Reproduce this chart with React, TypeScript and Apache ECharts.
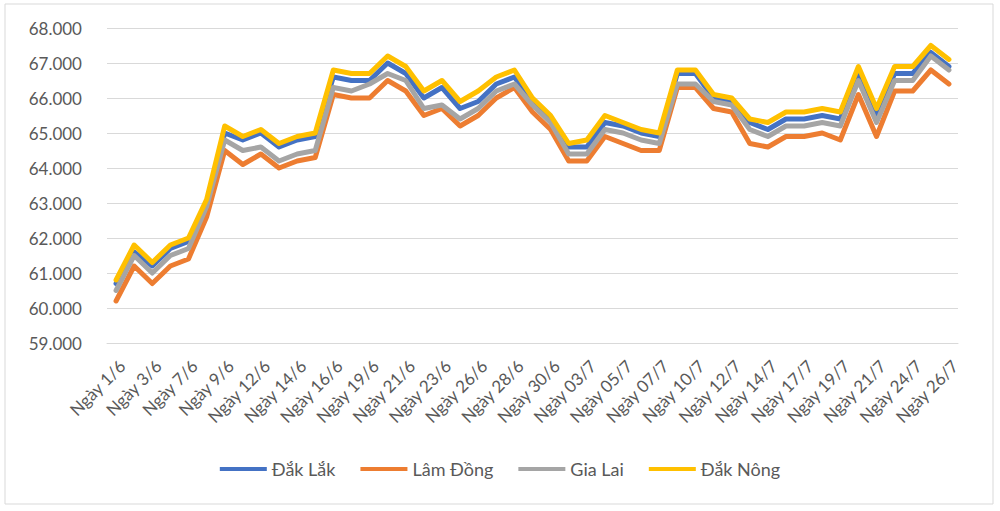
import React, { useEffect, useRef } from "react";
import * as echarts from "echarts";

const categories = [
  "Ngày 1/6", "Ngày 2/6", "Ngày 3/6", "Ngày 4/6", "Ngày 7/6", "Ngày 8/6", "Ngày 9/6", "Ngày 10/6",
  "Ngày 12/6", "Ngày 13/6", "Ngày 14/6", "Ngày 15/6", "Ngày 16/6", "Ngày 17/6", "Ngày 19/6", "Ngày 20/6",
  "Ngày 21/6", "Ngày 22/6", "Ngày 23/6", "Ngày 24/6", "Ngày 26/6", "Ngày 27/6", "Ngày 28/6", "Ngày 29/6",
  "Ngày 30/6", "Ngày 01/7", "Ngày 03/7", "Ngày 04/7", "Ngày 05/7", "Ngày 06/7", "Ngày 07/7", "Ngày 08/7",
  "Ngày 10/7", "Ngày 11/7", "Ngày 12/7", "Ngày 13/7", "Ngày 14/7", "Ngày 15/7", "Ngày 17/7", "Ngày 18/7",
  "Ngày 19/7", "Ngày 20/7", "Ngày 21/7", "Ngày 22/7", "Ngày 24/7", "Ngày 25/7", "Ngày 26/7",
];

const dakLak = [
  60700, 61600, 61200, 61700, 61900, 63000, 65000, 64800, 65000, 64600, 64800, 64900,
  66600, 66500, 66500, 67000, 66700, 66000, 66300, 65700, 65900, 66400, 66600, 65900,
  65400, 64600, 64600, 65300, 65200, 65000, 64900, 66700, 66700, 66000, 65900, 65300,
  65100, 65400, 65400, 65500, 65400, 66700, 65500, 66700, 66700, 67300, 66900,
];

const lamDong = [
  60200, 61200, 60700, 61200, 61400, 62600, 64500, 64100, 64400, 64000, 64200, 64300,
  66100, 66000, 66000, 66500, 66200, 65500, 65700, 65200, 65500, 66000, 66300, 65600,
  65100, 64200, 64200, 64900, 64700, 64500, 64500, 66300, 66300, 65700, 65600, 64700,
  64600, 64900, 64900, 65000, 64800, 66100, 64900, 66200, 66200, 66800, 66400,
];

const giaLai = [
  60500, 61500, 61000, 61500, 61700, 62900, 64800, 64500, 64600, 64200, 64400, 64500,
  66300, 66200, 66400, 66700, 66500, 65700, 65800, 65400, 65700, 66200, 66400, 65800,
  65300, 64400, 64400, 65100, 65000, 64800, 64700, 66400, 66400, 65900, 65800, 65100,
  64900, 65200, 65200, 65300, 65200, 66500, 65300, 66500, 66500, 67200, 66800,
];

const dakNong = [
  60800, 61800, 61300, 61800, 62000, 63100, 65200, 64900, 65100, 64700, 64900, 65000,
  66800, 66700, 66700, 67200, 66900, 66200, 66500, 65900, 66200, 66600, 66800, 66000,
  65500, 64700, 64800, 65500, 65300, 65100, 65000, 66800, 66800, 66100, 66000, 65400,
  65300, 65600, 65600, 65700, 65600, 66900, 65700, 66900, 66900, 67500, 67100,
];

const seriesNames = ["Đắk Lắk", "Lâm Đồng", "Gia Lai", "Đắk Nông"];
const seriesData = [dakLak, lamDong, giaLai, dakNong];
const seriesColors = ["#4472C4", "#ED7D31", "#A5A5A5", "#FFC000"];

const FONT = "Lato, 'Open Sans', sans-serif";

export default function App() {
  const ref = useRef<HTMLDivElement>(null);

  useEffect(() => {
    if (!ref.current) return;
    const chart = echarts.init(ref.current, null, { renderer: "svg" });
    chart.setOption({
      animation: false,
      backgroundColor: "#ffffff",
      graphic: [
        {
          type: "rect",
          shape: { x: 5, y: 4, width: 988, height: 500 },
          style: { fill: "none", stroke: "#D9D9D9", lineWidth: 1 },
          silent: true,
        },
      ],
      grid: { left: 107, right: 42, top: 28, bottom: 168, containLabel: false },
      legend: {
        bottom: 28,
        left: "center",
        icon: "rect",
        itemWidth: 47,
        itemHeight: 4,
        itemGap: 25,
        textStyle: { fontSize: 18, color: "#595959", fontFamily: FONT },
        data: seriesNames,
      },
      xAxis: {
        type: "category",
        data: categories,
        boundaryGap: true,
        axisTick: { show: false },
        axisLine: { lineStyle: { color: "#D9D9D9" } },
        axisLabel: {
          interval: 1,
          rotate: 45,
          fontSize: 17,
          color: "#595959",
          fontFamily: FONT,
          margin: 14,
          verticalAlign: "top",
        },
      },
      yAxis: {
        type: "value",
        min: 59000,
        max: 68000,
        interval: 1000,
        axisLine: { show: false },
        axisTick: { show: false },
        splitLine: { lineStyle: { color: "#D9D9D9", width: 1 } },
        axisLabel: {
          fontSize: 17,
          color: "#595959",
          fontFamily: FONT,
          margin: 25,
          formatter: (v: number) => (v / 1000).toFixed(3),
        },
      },
      series: seriesNames.map((name, i) => ({
        name,
        type: "line",
        data: seriesData[i],
        symbol: "none",
        lineStyle: { width: 5, color: seriesColors[i], join: "round", cap: "round" },
        itemStyle: { color: seriesColors[i] },
        z: 2 + i,
      })),
    });
    return () => chart.dispose();
  }, []);

  return (
    <div
      ref={ref}
      style={{ position: "fixed", left: 0, top: 0, width: 1000, height: 511 }}
    />
  );
}
